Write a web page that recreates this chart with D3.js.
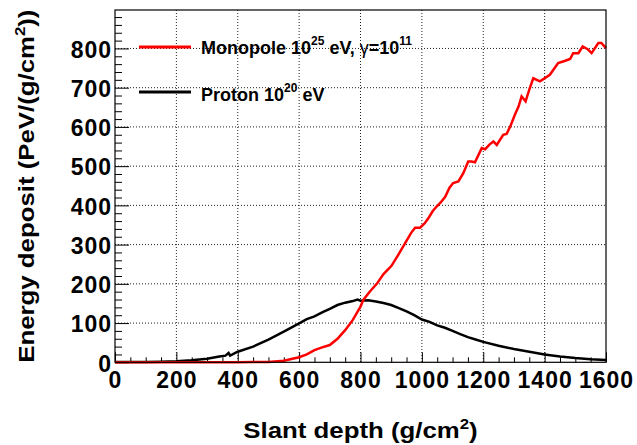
<!DOCTYPE html>
<html>
<head>
<meta charset="utf-8">
<script src="https://cdn.jsdelivr.net/npm/d3@7"></script>
<style>
  body { margin: 0; background: #fff; }
  text { font-family: "Liberation Sans", Arial, Helvetica, sans-serif; font-weight: bold; }
</style>
</head>
<body>
<div id="plot"></div>
<script>
// slant depth (g/cm2) and energy deposit (PeV/(g/cm2))
var monoDepth = [0, 100, 200, 300, 400, 450, 500, 550, 600, 625, 650, 675, 700, 725, 750, 775, 800, 809, 830, 853, 875, 901, 920, 945, 965, 978, 994, 1010, 1021, 1035, 1048, 1062, 1076, 1090, 1102, 1119, 1135, 1151, 1162, 1173, 1195, 1206, 1220, 1233, 1244, 1265, 1276, 1290, 1303, 1315, 1325, 1338, 1350, 1363, 1385, 1400, 1417, 1444, 1465, 1483, 1493, 1510, 1524, 1540, 1553, 1575, 1585, 1600];
var monoDeposit = [0, 0, 0, 0, 0, 0.5, 1, 4, 13, 20, 31, 38, 44, 60, 82, 108, 142, 159, 180, 200, 225, 246, 270, 303, 330, 343, 343, 355, 367, 385, 397, 408, 422, 445, 457, 461, 482, 512, 512, 510, 546, 543, 555, 563, 554, 580, 582, 605, 631, 652, 678, 665, 695, 724, 716, 724, 733, 763, 768, 773, 788, 788, 805, 798, 788, 814, 814, 801];

var protonDepth = [0, 50, 100, 150, 200, 250, 300, 340, 360, 370, 375, 400, 450, 500, 550, 600, 625, 650, 675, 700, 725, 750, 775, 790, 800, 825, 850, 875, 900, 925, 950, 975, 1000, 1025, 1050, 1075, 1100, 1125, 1150, 1175, 1200, 1250, 1300, 1350, 1400, 1450, 1500, 1550, 1600];
var protonDeposit = [0.5, 0.8, 1, 1.5, 2.5, 5, 9, 15, 17, 24, 17, 27, 40, 58, 78, 99, 110, 117, 127, 136, 146, 152, 156, 160, 157, 158, 155, 151, 146, 138, 130, 120, 109, 103, 94, 88, 80, 72, 64, 58, 52, 42, 34, 27, 20, 15, 11, 8, 6];

var xTicks = [0, 200, 400, 600, 800, 1000, 1200, 1400, 1600];
var yTicks = [0, 100, 200, 300, 400, 500, 600, 700, 800];

var svgWidth = 637;
var svgHeight = 445;
var frame = { left: 115, right: 606, top: 10, bottom: 362.3 };

var svg = d3.select("#plot")
  .append("svg")
  .attr("width", svgWidth)
  .attr("height", svgHeight);

svg.append("rect")
  .attr("width", svgWidth)
  .attr("height", svgHeight)
  .attr("fill", "#fff");

var x = d3.scaleLinear().domain([0, 1600]).range([frame.left, frame.right]);
var y = d3.scaleLinear().domain([0, 898]).range([frame.bottom, frame.top]);

// dotted grid
svg.append("g").selectAll("line")
  .data(xTicks.slice(1, -1))
  .enter().append("line")
  .attr("x1", d => x(d)).attr("x2", d => x(d))
  .attr("y1", frame.top).attr("y2", frame.bottom)
  .attr("stroke", "#222").attr("stroke-width", 1).attr("stroke-dasharray", "1,2");

svg.append("g").selectAll("line")
  .data(yTicks.slice(1))
  .enter().append("line")
  .attr("x1", frame.left).attr("x2", frame.right)
  .attr("y1", d => y(d)).attr("y2", d => y(d))
  .attr("stroke", "#222").attr("stroke-width", 1).attr("stroke-dasharray", "1,2");

// minor ticks
var xMinor = d3.range(0, 1601, 50).filter(d => d % 200 != 0);
var yMinor = d3.range(0, 898, 20).filter(d => d % 100 != 0);

svg.append("g")
  .attr("transform", `translate(0, ${frame.bottom})`)
  .call(d3.axisBottom(x).tickValues(xMinor).tickSizeInner(-5).tickSizeOuter(0).tickFormat(""))
  .call(g => g.select(".domain").remove());

svg.append("g")
  .attr("transform", `translate(${frame.left}, 0)`)
  .call(d3.axisLeft(y).tickValues(yMinor).tickSizeInner(-7).tickSizeOuter(0).tickFormat(""))
  .call(g => g.select(".domain").remove());

// major ticks and labels
var xAxis = svg.append("g")
  .attr("transform", `translate(0, ${frame.bottom})`)
  .call(d3.axisBottom(x).tickValues(xTicks).tickFormat(d3.format("d"))
    .tickSizeInner(-10).tickSizeOuter(0).tickPadding(9));
xAxis.select(".domain").remove();
xAxis.selectAll("text")
  .attr("font-size", "23px")
  .attr("font-family", "Liberation Sans, Arial, sans-serif")
  .attr("font-weight", "bold")
  .attr("letter-spacing", "1px")
  .attr("fill", "#000");

var yAxis = svg.append("g")
  .attr("transform", `translate(${frame.left}, 0)`)
  .call(d3.axisLeft(y).tickValues(yTicks).tickFormat(d3.format("d"))
    .tickSizeInner(-14).tickSizeOuter(0).tickPadding(3));
yAxis.select(".domain").remove();
yAxis.selectAll("text")
  .attr("font-size", "23px")
  .attr("font-family", "Liberation Sans, Arial, sans-serif")
  .attr("font-weight", "bold")
  .attr("letter-spacing", "1px")
  .attr("dy", "0.38em")
  .attr("fill", "#000");

// curves
var proton = protonDepth.map((d, i) => [d, protonDeposit[i]]);
var mono = monoDepth.map((d, i) => [d, monoDeposit[i]]);

var line = d3.line()
  .x(d => x(d[0]))
  .y(d => y(d[1]));

svg.append("path")
  .datum(proton)
  .attr("d", line)
  .attr("fill", "none")
  .attr("stroke", "#000")
  .attr("stroke-width", 2.5);

svg.append("path")
  .datum(mono)
  .attr("d", line)
  .attr("fill", "none")
  .attr("stroke", "#ff0000")
  .attr("stroke-width", 2.5);

// frame
svg.append("rect")
  .attr("x", frame.left)
  .attr("y", frame.top)
  .attr("width", frame.right - frame.left)
  .attr("height", frame.bottom - frame.top)
  .attr("fill", "none")
  .attr("stroke", "#000")
  .attr("stroke-width", 1.2);

// legend
svg.append("line")
  .attr("x1", 139).attr("x2", 191).attr("y1", 47).attr("y2", 47)
  .attr("stroke", "#ff0000").attr("stroke-width", 3);
svg.append("line")
  .attr("x1", 139).attr("x2", 191).attr("y1", 92).attr("y2", 92)
  .attr("stroke", "#000").attr("stroke-width", 3);

var leg1 = svg.append("text")
  .attr("x", 201).attr("y", 54)
  .attr("font-size", "18px");
leg1.append("tspan").text("Monopole 10");
leg1.append("tspan").attr("font-size", "12px").attr("dy", -9).text("25");
leg1.append("tspan").attr("dy", 9).text(" eV, ");
leg1.append("tspan").attr("font-weight", "normal").text("γ");
leg1.append("tspan").text("=10");
leg1.append("tspan").attr("font-size", "12px").attr("dy", -9).text("11");

var leg2 = svg.append("text")
  .attr("x", 201).attr("y", 101)
  .attr("font-size", "18px");
leg2.append("tspan").text("Proton 10");
leg2.append("tspan").attr("font-size", "12px").attr("dy", -9).text("20");
leg2.append("tspan").attr("dy", 9).text(" eV");

// axis titles
var xt = svg.append("g")
  .attr("transform", `translate(${(frame.left + frame.right) / 2}, 438) scale(1.2, 1)`)
  .append("text")
  .attr("text-anchor", "middle")
  .attr("font-size", "21.5px");
xt.append("tspan").text("Slant depth (g/cm");
xt.append("tspan").attr("font-size", "14px").attr("dy", -9).text("2");
xt.append("tspan").attr("dy", 9).text(")");

var yt = svg.append("g")
  .attr("transform", `translate(33.5, ${(frame.top + frame.bottom) / 2}) rotate(-90) scale(1.2, 1)`)
  .append("text")
  .attr("text-anchor", "middle")
  .attr("font-size", "21.5px");
yt.append("tspan").text("Energy deposit (PeV/(g/cm");
yt.append("tspan").attr("font-size", "14px").attr("dy", -9).text("2");
yt.append("tspan").attr("dy", 9).text("))");
</script>
</body>
</html>
